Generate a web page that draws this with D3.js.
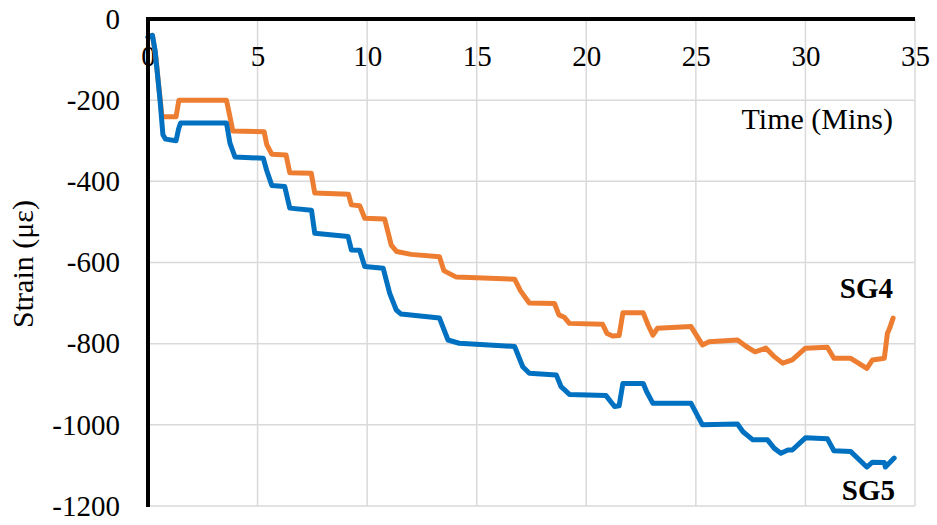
<!DOCTYPE html>
<html>
<head>
<meta charset="utf-8">
<script src="https://cdn.jsdelivr.net/npm/d3@7"></script>
<style>
  html, body { margin: 0; padding: 0; background: #fff; }
  svg { display: block; }
  text { font-family: "Liberation Serif", "Times New Roman", serif; fill: #000; }
</style>
</head>
<body>
<svg id="chart" width="937" height="525"></svg>
<script>
// Strain gauge readings over time: [minutes, microstrain]
const sg4 = [
  [0, -45], [0.2, -40], [0.35, -90], [0.5, -170], [0.64, -241], [1.28, -241],
  [1.41, -200], [3.58, -200], [3.74, -241], [3.87, -276], [5.3, -278],
  [5.42, -310], [5.65, -333], [6.3, -335], [6.47, -379], [7.45, -380],
  [7.61, -429], [9.15, -432], [9.28, -458], [9.66, -460], [9.89, -491],
  [10.8, -493], [11.1, -557], [11.35, -573], [12.0, -580], [13.3, -586],
  [13.5, -620], [13.67, -625], [14.07, -636], [16.73, -641], [17.0, -670],
  [17.4, -700], [18.55, -701], [18.75, -729], [19.0, -735], [19.23, -750],
  [20.74, -752], [20.95, -775], [21.2, -781], [21.5, -780], [21.67, -724],
  [22.6, -724], [22.82, -754], [23.04, -779], [23.25, -762], [24.78, -758],
  [25.3, -803], [25.6, -795], [26.9, -791], [27.3, -807], [27.7, -820],
  [28.2, -811], [28.58, -832], [28.96, -848], [29.4, -840], [30.0, -811],
  [31.0, -809], [31.3, -836], [32.07, -836], [32.8, -861], [33.06, -840],
  [33.6, -836], [33.74, -775], [33.85, -761], [34.0, -737]
];
const sg5 = [
  [0, -45], [0.2, -40], [0.32, -76], [0.55, -200], [0.68, -285], [0.8, -296],
  [1.28, -300], [1.4, -270], [1.49, -256], [3.58, -256], [3.74, -306],
  [3.97, -340], [5.26, -343], [5.41, -372], [5.65, -410], [6.24, -413],
  [6.47, -466], [7.46, -471], [7.61, -528], [9.13, -536], [9.28, -569],
  [9.66, -570], [9.89, -610], [10.73, -614], [11.03, -676], [11.33, -717],
  [11.55, -727], [13.3, -737], [13.69, -791], [14.2, -799], [16.73, -807],
  [17.1, -857], [17.4, -873], [18.63, -877], [18.85, -906], [19.23, -925],
  [20.9, -928], [21.29, -955], [21.5, -953], [21.67, -898], [22.6, -898],
  [22.75, -918], [23.04, -947], [24.78, -947], [25.3, -1000], [26.9, -998],
  [27.15, -1017], [27.6, -1037], [28.27, -1037], [28.58, -1058], [28.88, -1070],
  [29.2, -1062], [29.4, -1062], [30.0, -1032], [31.0, -1034], [31.3, -1064],
  [32.07, -1066], [32.8, -1104], [33.06, -1092], [33.6, -1093], [33.65, -1104],
  [34.05, -1082]
];
const xTicks = [0, 5, 10, 15, 20, 25, 30, 35];
const yTicks = [0, -200, -400, -600, -800, -1000, -1200];
const seriesNames = ["SG4", "SG5"];
const seriesColors = ["#ED7D31", "#0070C0"];

const svg = d3.select("#chart");
const plotLeft = 148, plotRight = 915, plotTop = 19, plotBottom = 506;

const x = d3.scaleLinear().domain([0, 35]).range([plotLeft, plotRight]);
const y = d3.scaleLinear().domain([-1200, 0]).range([plotBottom, plotTop]);

// grid
const grid = svg.append("g").attr("stroke", "#d9d9d9").attr("stroke-width", 1.5);
grid.selectAll("line.v").data(xTicks).join("line").attr("class", "v")
  .attr("x1", d => x(d)).attr("x2", d => x(d))
  .attr("y1", plotTop).attr("y2", plotBottom);
grid.selectAll("line.h").data(yTicks).join("line").attr("class", "h")
  .attr("x1", plotLeft).attr("x2", plotRight)
  .attr("y1", d => y(d)).attr("y2", d => y(d));

// x axis along the top, labels inside the plot
const xAxis = svg.append("g")
  .attr("transform", `translate(0,${plotTop})`)
  .call(d3.axisBottom(x).tickValues(xTicks).tickSize(0).tickPadding(26).tickFormat(d3.format("d")));
xAxis.select(".domain").remove();
xAxis.selectAll("text").attr("font-size", 29).attr("font-family", "Liberation Serif").attr("fill", "#000");

// y axis
const yAxis = svg.append("g")
  .attr("transform", `translate(${plotLeft},0)`)
  .call(d3.axisLeft(y).tickValues(yTicks).tickSize(0).tickPadding(28).tickFormat(d3.format("d")));
yAxis.select(".domain").remove();
yAxis.selectAll("text").attr("font-size", 29).attr("font-family", "Liberation Serif").attr("fill", "#000")
  .text(d => d < 0 ? "-" + Math.abs(d) : d);

// series
const line = d3.line().x(d => x(d[0])).y(d => y(d[1])).curve(d3.curveLinear);
[sg4, sg5].forEach((s, i) => {
  svg.append("path")
    .datum(s)
    .attr("d", line)
    .attr("fill", "none")
    .attr("stroke", seriesColors[i])
    .attr("stroke-width", 5)
    .attr("stroke-linejoin", "round")
    .attr("stroke-linecap", "round");
});

// heavy axis lines (left and top)
svg.append("line").attr("x1", plotLeft).attr("x2", plotLeft).attr("y1", plotTop - 2).attr("y2", plotBottom + 1)
  .attr("stroke", "#000").attr("stroke-width", 4);
svg.append("line").attr("x1", plotLeft - 2).attr("x2", plotRight).attr("y1", plotTop).attr("y2", plotTop)
  .attr("stroke", "#000").attr("stroke-width", 4);

// axis titles
svg.append("text").attr("x", 893).attr("y", 129).attr("text-anchor", "end")
  .attr("font-size", 30).text("Time (Mins)");
svg.append("text").attr("transform", "translate(33,264) rotate(-90)").attr("text-anchor", "middle")
  .attr("font-size", 30).text("Strain (με)");

// series labels
svg.append("text").attr("x", 893).attr("y", 298).attr("text-anchor", "end")
  .attr("font-size", 29).attr("font-weight", "bold").text(seriesNames[0]);
svg.append("text").attr("x", 895).attr("y", 500).attr("text-anchor", "end")
  .attr("font-size", 29).attr("font-weight", "bold").text(seriesNames[1]);
</script>
</body>
</html>
